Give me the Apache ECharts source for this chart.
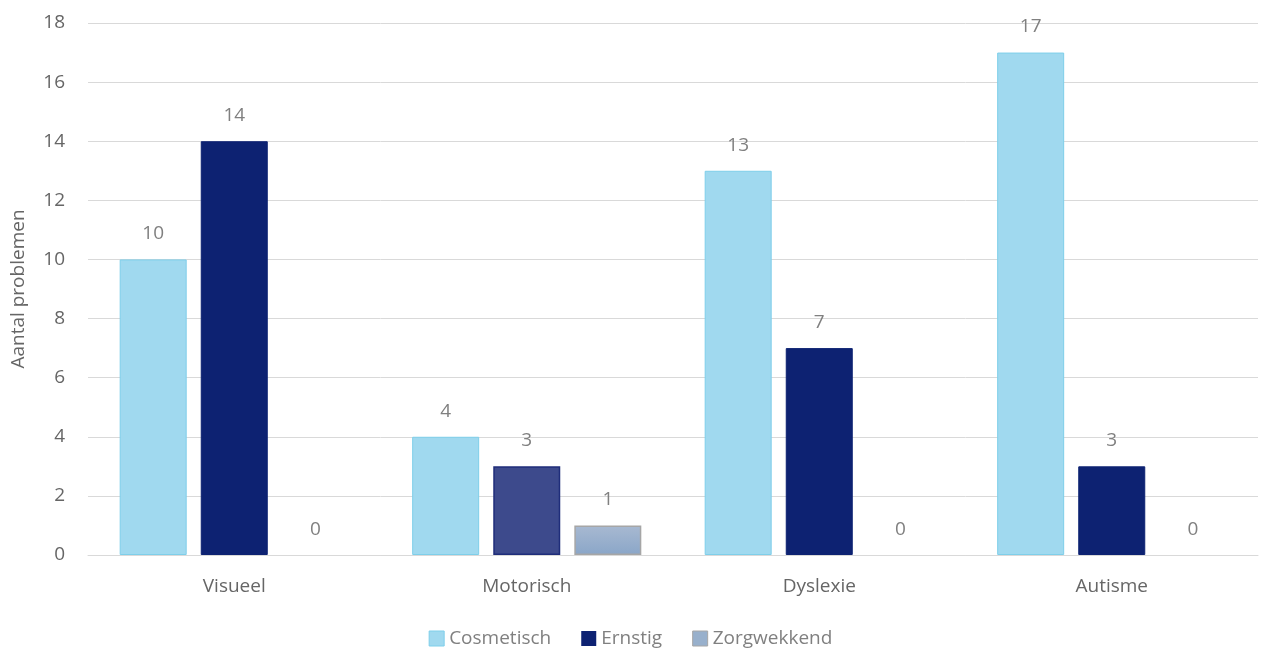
<!DOCTYPE html>
<html><head><meta charset="utf-8">
<script src="https://cdn.jsdelivr.net/npm/echarts@6/dist/echarts.min.js"></script>
<style>html,body{margin:0;padding:0;background:#fff}#c{width:1261px;height:650px}</style>
</head><body><div id="c"></div>
<script>
const categories = ['Visueel', 'Motorisch', 'Dyslexie', 'Autisme'];
const cosmetisch = [10, 4, 13, 17];
const ernstig = [14, 3, 7, 3];
const zorgwekkend = [0, 1, 0, 0];
const yTicks = [0, 2, 4, 6, 8, 10, 12, 14, 16, 18];

const font = '"Open Sans", sans-serif';
const fs = 19;
const chart = echarts.init(document.getElementById('c'));
const label = {show: true, position: 'top', color: '#808080', fontSize: fs, fontFamily: font, distance: 16};
const hideZero = v => v === 0 ? {value: v, itemStyle: {borderWidth: 0, opacity: 0}, label: {opacity: 1}} : v;
chart.setOption({
  animation: false,
  grid: {left: 88, right: 3, top: 23, bottom: 95},
  legend: {
    top: 624, icon: 'rect', itemWidth: 15, itemHeight: 15, itemGap: 30,
    textStyle: {color: '#808080', fontSize: fs, fontFamily: font},
    data: [
      {name: 'Cosmetisch', itemStyle: {color: '#a0d9ef', borderColor: '#7ecfea', borderWidth: 1}},
      {name: 'Ernstig', itemStyle: {color: '#0d2272', borderWidth: 0}},
      {name: 'Zorgwekkend', itemStyle: {color: '#98b0cc', borderColor: '#a6a6a6', borderWidth: 1}}
    ]
  },
  xAxis: {
    type: 'category', data: categories,
    axisLine: {lineStyle: {color: '#d9d9d9', width: 1}},
    axisTick: {show: false},
    axisLabel: {color: '#666666', fontSize: fs, fontFamily: font, margin: 22}
  },
  yAxis: {
    type: 'value', min: yTicks[0], max: yTicks[yTicks.length - 1], interval: 2,
    name: 'Aantal problemen', nameLocation: 'middle', nameGap: 60,
    nameTextStyle: {color: '#666666', fontSize: fs, fontFamily: font},
    axisLine: {show: false}, axisTick: {show: false},
    axisLabel: {color: '#666666', fontSize: fs, fontFamily: font, margin: 23},
    splitLine: {lineStyle: {color: '#d9d9d9', width: 1}}
  },
  series: [
    {name: 'Cosmetisch', type: 'bar', data: cosmetisch.map(hideZero), barWidth: 67, barGap: '21%',
     itemStyle: {color: '#a0d9ef', borderColor: '#7ecfea', borderWidth: 1}, label},
    {name: 'Ernstig', type: 'bar', barWidth: 67,
     data: ernstig.map((v, i) => i === 1 ? {value: v, itemStyle: {color: '#3d4a8c', borderColor: '#1f2d7a', borderWidth: 1.5}} : hideZero(v)),
     itemStyle: {color: '#0d2272', borderColor: '#0d2272', borderWidth: 1}, label},
    {name: 'Zorgwekkend', type: 'bar', barWidth: 67, data: zorgwekkend.map(hideZero),
     itemStyle: {
       color: new echarts.graphic.LinearGradient(0, 0, 0, 1, [{offset: 0, color: '#a8b9d1'}, {offset: 1, color: '#8aa6c8'}]),
       borderColor: '#a6a6a6', borderWidth: 1.5},
     label}
  ]
});
</script></body></html>
